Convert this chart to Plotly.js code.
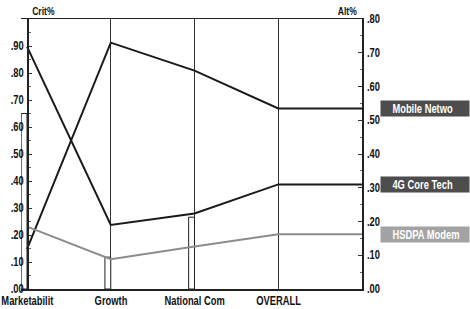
<!DOCTYPE html>
<html><head><meta charset="utf-8">
<script src="https://cdn.plot.ly/plotly-3.0.1.min.js"></script>
<style>html,body{margin:0;padding:0;background:#fff;}#c{width:470px;height:309px;}</style>
</head><body><div id="c"></div>
<script>
const categories = ["Marketabilit", "Growth", "National Com", "OVERALL"];
const critWeights = [0.65, 0.118, 0.266];
const altNames = ["Mobile Netwo", "4G Core Tech", "HSDPA Modem"];
const mobileNetwork = [0.118, 0.73, 0.647, 0.535];
const coreTech4G = [0.718, 0.19, 0.224, 0.31];
const hsdpaModem = [0.185, 0.088, 0.126, 0.162];
const critTicks = [0, 0.1, 0.2, 0.3, 0.4, 0.5, 0.6, 0.7, 0.8, 0.9];
const altTicks = [0, 0.1, 0.2, 0.3, 0.4, 0.5, 0.6, 0.7, 0.8];

const FONT = "'Liberation Sans', Arial, sans-serif";
const SQUEEZE = 0.78;
const idx = categories.map((_, i) => i);
const xEnd = categories.length; // right axis position
const xStart = -0.072;
const yPos = -xStart / (xEnd - xStart);
const fmt = v => "." + v.toFixed(2).split(".")[1];

function ext(vals) { return vals.concat([vals[vals.length - 1]]); }
const xLine = idx.concat([xEnd]);

const series = [mobileNetwork, coreTech4G, hsdpaModem];
const colors = ["#1a1a1a", "#1a1a1a", "#8c8c8c"];
const boxColors = ["#4d4d4d", "#4d4d4d", "#a3a3a3"];
const tf = (sz, c) => ({family: FONT, size: sz, color: c || "#111", weight: "bold"});

const traces = [{
  type: "bar",
  x: idx.slice(0, critWeights.length).map(i => i - 0.035),
  y: critWeights,
  width: 0.07,
  marker: {color: "#fff", line: {color: "#222", width: 1}},
  yaxis: "y",
  hoverinfo: "skip"
}];
series.forEach((s, k) => traces.push({
  type: "scatter", mode: "lines",
  x: xLine, y: ext(s), yaxis: "y2",
  line: {color: colors[k], width: 2}
}));

const annotations = [
  {xref: "paper", yref: "paper", x: yPos, y: 1.0, xanchor: "left", yanchor: "bottom",
   text: "Crit%", showarrow: false, font: tf(11)},
  {xref: "paper", yref: "paper", x: 1, y: 1.0, xanchor: "right", yanchor: "bottom",
   text: "Alt%", showarrow: false, font: tf(11)}
];
categories.forEach((c, i) => annotations.push({
  xref: "x", yref: "paper", x: i, y: -0.01, xanchor: "center", yanchor: "top",
  text: c, showarrow: false, font: tf(12)
}));
series.forEach((s, k) => annotations.push({
  xref: "paper", yref: "y2", x: 1.053, y: s[s.length - 1], xanchor: "left", yanchor: "middle",
  text: "&nbsp;&nbsp;&nbsp;&nbsp;" + altNames[k], showarrow: false, align: "left", width: 86, height: 13,
  bgcolor: boxColors[k], borderpad: 1,
  font: tf(12, "#fff")
}));

const layout = {
  width: 470, height: 309,
  margin: {l: 21, r: 108, t: 19, b: 20},
  paper_bgcolor: "#fff", plot_bgcolor: "#fff",
  showlegend: false,
  bargap: 0,
  font: tf(12),
  xaxis: {
    range: [xStart, xEnd], tickvals: idx, showticklabels: false,
    showgrid: true, gridcolor: "#333", gridwidth: 1,
    showline: true, linecolor: "#222", linewidth: 1.5, mirror: true,
    zeroline: false, ticks: "", fixedrange: true
  },
  yaxis: {
    range: [0, 1], tickvals: critTicks, ticktext: critTicks.map(fmt),
    anchor: "free", position: yPos,
    showgrid: false, zeroline: false, showline: true, linecolor: "#222", linewidth: 1.5,
    ticks: "inside", ticklen: 3, tickcolor: "#333",
    minor: {dtick: 0.05, ticks: "inside", ticklen: 2, tickcolor: "#666"},
    ticklabelstandoff: 1,
    tickfont: tf(12)
  },
  yaxis2: {
    range: [0, 0.8], overlaying: "y", side: "right",
    tickvals: altTicks, ticktext: altTicks.map(fmt),
    showgrid: false, zeroline: false, showline: true, linecolor: "#222", linewidth: 1.5,
    ticks: "inside", ticklen: 4, tickcolor: "#333",
    minor: {dtick: 0.05, ticks: "inside", ticklen: 2, tickcolor: "#666"},
    ticklabelstandoff: 1,
    tickfont: tf(12)
  },
  annotations: annotations
};
Plotly.newPlot("c", traces, layout, {staticPlot: true, displayModeBar: false}).then(gd => {
  gd.querySelectorAll("svg text").forEach(t => {
    const L = t.getComputedTextLength();
    if (L > 0) {
      t.setAttribute("textLength", (L * SQUEEZE).toFixed(1));
      t.setAttribute("lengthAdjust", "spacingAndGlyphs");
    }
  });
});
</script></body></html>
